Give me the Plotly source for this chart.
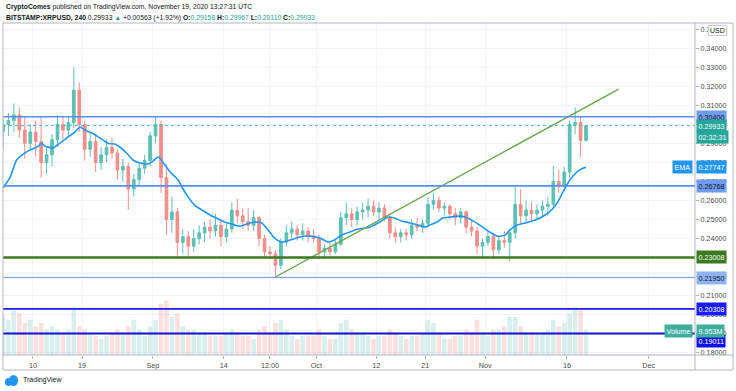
import plotly.graph_objects as go
import pandas as pd

# ---------------- data (daily candles) ----------------
dates = pd.date_range("2020-08-04", "2020-11-19", freq="D")

opens = [0.296,0.300,0.302,0.305,0.297,0.290,0.296,0.291,0.280,0.284,0.292,0.300,0.297,0.301,0.318,0.300,0.287,0.291,0.280,0.284,0.288,0.285,0.276,0.278,0.266,0.271,0.277,0.281,
         0.294,0.300,0.272,0.250,0.254,0.238,0.241,0.236,0.240,0.243,0.246,0.244,0.247,0.241,0.245,0.255,0.252,0.249,0.247,0.251,0.240,0.233,0.232,0.226,0.238,0.243,0.245,0.242,0.244,0.241,
         0.240,0.233,0.235,0.233,0.237,0.251,0.253,0.250,0.254,0.255,0.257,0.254,0.256,0.251,0.243,0.241,0.243,0.242,0.247,0.246,0.248,0.258,0.260,0.256,0.257,0.253,0.251,0.254,0.246,0.244,0.236,
         0.238,0.241,0.234,0.239,0.238,0.243,0.258,0.252,0.255,0.253,0.255,0.257,0.258,0.270,0.268,0.275,0.300,0.301,0.2916]
highs = [0.303,0.306,0.311,0.309,0.304,0.300,0.302,0.304,0.288,0.295,0.305,0.304,0.304,0.330,0.322,0.302,0.296,0.294,0.288,0.292,0.293,0.287,0.282,0.280,0.274,0.280,0.284,0.296,
         0.304,0.302,0.279,0.262,0.256,0.245,0.244,0.245,0.247,0.249,0.250,0.253,0.249,0.248,0.259,0.261,0.256,0.256,0.255,0.252,0.242,0.236,0.234,0.240,0.247,0.249,0.247,0.248,0.246,0.245,
         0.242,0.237,0.238,0.239,0.254,0.259,0.256,0.257,0.259,0.261,0.260,0.259,0.258,0.253,0.246,0.245,0.245,0.250,0.251,0.250,0.262,0.264,0.262,0.259,0.258,0.256,0.256,0.255,0.250,0.246,0.240,
         0.244,0.243,0.241,0.244,0.245,0.267,0.266,0.260,0.259,0.258,0.260,0.262,0.278,0.276,0.278,0.302,0.309,0.304,0.29967]
lows = [0.288,0.294,0.296,0.293,0.282,0.286,0.283,0.272,0.274,0.278,0.288,0.292,0.293,0.298,0.296,0.281,0.283,0.275,0.276,0.280,0.282,0.271,0.270,0.255,0.262,0.268,0.274,0.278,
        0.290,0.264,0.242,0.243,0.230,0.232,0.231,0.233,0.237,0.238,0.240,0.241,0.236,0.238,0.243,0.248,0.245,0.244,0.244,0.236,0.230,0.229,0.220,0.224,0.236,0.240,0.239,0.239,0.238,0.238,
        0.229,0.230,0.231,0.232,0.236,0.247,0.246,0.247,0.250,0.251,0.252,0.250,0.249,0.240,0.238,0.238,0.239,0.240,0.244,0.243,0.246,0.255,0.254,0.252,0.250,0.247,0.248,0.243,0.241,0.232,0.230,
        0.236,0.229,0.232,0.235,0.228,0.240,0.248,0.249,0.249,0.250,0.252,0.252,0.256,0.264,0.265,0.272,0.295,0.283,0.2911]
closes = [0.300,0.302,0.305,0.297,0.290,0.296,0.291,0.280,0.284,0.292,0.300,0.297,0.301,0.318,0.300,0.287,0.291,0.280,0.284,0.288,0.285,0.276,0.278,0.266,0.271,0.277,0.281,0.294,
          0.300,0.272,0.250,0.254,0.238,0.241,0.236,0.240,0.243,0.246,0.244,0.247,0.241,0.245,0.255,0.252,0.249,0.247,0.251,0.240,0.233,0.232,0.226,0.238,0.243,0.245,0.242,0.244,0.241,0.240,
          0.233,0.235,0.233,0.237,0.251,0.253,0.250,0.254,0.255,0.257,0.254,0.256,0.251,0.243,0.241,0.243,0.242,0.247,0.246,0.248,0.258,0.260,0.256,0.257,0.253,0.251,0.254,0.246,0.244,0.236,0.238,
          0.241,0.234,0.239,0.238,0.243,0.258,0.252,0.255,0.253,0.255,0.257,0.258,0.270,0.268,0.275,0.300,0.301,0.2916,0.29933]
volumes = [60,55,70,65,50,55,45, 50,40,45,40,35,40,75, 45,40,35,30,25,30,35, 40,35,45,55,40,30,45,
           55,80,85,60,65,45,40, 40,35,35,30,30,30,35, 40,35,30,30,25,40,45, 35,50,55,40,30,25,30,
           30,30,40,30,25,25,50, 55,40,35,35,30,25,30, 30,40,35,30,25,30,30, 35,55,50,35,25,25,30,
           30,40,35,55,35,30,40, 40,45,60,60,45,35,35, 35,35,40,55,45,50,65, 75,70,40]

ema_times = ["2020-08-04 12:00","2020-08-05 20:00","2020-08-07 00:00","2020-08-08 00:00","2020-08-09 12:00",
             "2020-08-10 16:00","2020-08-11 16:00","2020-08-12 04:00","2020-08-13 16:00","2020-08-14 12:00",
             "2020-08-16 04:00","2020-08-17 16:00","2020-08-18 16:00","2020-08-19 12:00","2020-08-20 20:00",
             "2020-08-22 08:00","2020-08-23 20:00","2020-08-25 00:00","2020-08-26 00:00","2020-08-27 04:00",
             "2020-08-28 08:00","2020-08-29 16:00","2020-08-31 00:00","2020-08-31 20:00","2020-09-02 00:00",
             "2020-09-02 20:00","2020-09-04 04:00","2020-09-05 16:00","2020-09-06 08:00","2020-09-07 12:00",
             "2020-09-08 16:00","2020-09-10 00:00","2020-09-11 12:00","2020-09-13 00:00","2020-09-14 04:00",
             "2020-09-15 12:00","2020-09-17 00:00","2020-09-18 20:00","2020-09-20 08:00","2020-09-21 00:00",
             "2020-09-22 04:00","2020-09-23 08:00","2020-09-24 16:00","2020-09-26 04:00","2020-09-28 00:00",
             "2020-09-29 20:00","2020-10-01 16:00","2020-10-03 04:00","2020-10-04 08:00","2020-10-05 16:00",
             "2020-10-07 04:00","2020-10-08 16:00","2020-10-10 20:00","2020-10-12 16:00","2020-10-14 04:00",
             "2020-10-15 08:00","2020-10-16 16:00","2020-10-18 04:00","2020-10-19 16:00","2020-10-21 00:00",
             "2020-10-21 20:00","2020-10-23 04:00","2020-10-24 04:00","2020-10-25 12:00","2020-10-27 00:00",
             "2020-10-28 08:00","2020-10-29 12:00","2020-10-31 00:00","2020-11-01 20:00","2020-11-03 04:00",
             "2020-11-04 16:00","2020-11-05 12:00","2020-11-06 20:00","2020-11-08 08:00","2020-11-10 04:00",
             "2020-11-12 00:00","2020-11-13 04:00","2020-11-14 08:00","2020-11-15 16:00","2020-11-16 20:00",
             "2020-11-18 08:00","2020-11-19 12:00"]
ema_values = [0.2666,0.2724,0.2813,0.2840,0.2866,0.2880,0.2900,0.2886,0.2876,0.2892,
              0.2928,0.2960,0.2986,0.2970,0.2955,0.2928,0.2900,0.2897,0.2880,0.2850,
              0.2813,0.2797,0.2792,0.2803,0.2829,0.2803,0.2750,0.2708,0.2671,0.2618,
              0.2576,0.2550,0.2524,0.2503,0.2487,0.2476,0.2465,0.2482,0.2487,0.2482,
              0.2445,0.2403,0.2382,0.2392,0.2408,0.2413,0.2403,0.2382,0.2392,0.2419,
              0.2435,0.2450,0.2460,0.2487,0.2513,0.2508,0.2492,0.2482,0.2471,0.2460,
              0.2471,0.2487,0.2508,0.2513,0.2518,0.2513,0.2497,0.2471,0.2434,0.2413,
              0.2418,0.2445,0.2471,0.2482,0.2497,0.2524,0.2550,0.2593,0.2666,0.2719,
              0.2761,0.2775]

trend_times = ["2020-09-23 12:00", "2020-11-25 12:00"]
trend_prices = [0.2198, 0.3186]

level_values = [0.30400, 0.26768, 0.23008, 0.21950, 0.20308, 0.19011]
level_labels = ["0.30400", "0.26768", "0.23008", "0.21950", "0.20308", "0.19011"]
last_price = 0.29933
ema_last = 0.27747

x_tick_dates = ["2020-08-10", "2020-08-19", "2020-09-01", "2020-09-14", "2020-09-22 12:00",
                "2020-10-01", "2020-10-12", "2020-10-21", "2020-11-01", "2020-11-16", "2020-12-01"]
x_tick_labels = ["10", "19", "Sep", "14", "12:00", "Oct", "12", "21", "Nov", "16", "Dec"]
y_ticks = [round(0.18 + 0.01 * i, 2) for i in range(18)]

# ---------------- styling ----------------
FONT = "Liberation Sans"
level_styles = [  # line color, width, badge bg, badge text
    ("#5b8def", 1.6, "#6f9cf1", "#131722"),
    ("#5b8def", 1.6, "#6f9cf1", "#131722"),
    ("#3b7a1f", 2.6, "#3b7a1f", "#ffffff"),
    ("#6f9ef5", 1.0, "#8fb3f7", "#131722"),
    ("#1a1aff", 1.8, "#1a1aff", "#ffffff"),
    ("#1010d0", 1.8, "#1010e8", "#ffffff"),
]

vol_colors = ["rgba(38,166,154,0.18)" if c >= o else "rgba(239,83,80,0.18)"
              for o, c in zip(opens, closes)]

fig = go.Figure()
fig.add_trace(go.Bar(x=dates, y=volumes, yaxis="y2", marker_color=vol_colors,
                     marker_line_width=0, xperiod=86400000, xperiodalignment="middle",
                     hoverinfo="skip", showlegend=False))
fig.add_trace(go.Candlestick(x=dates, open=opens, high=highs, low=lows, close=closes,
                             xperiod=86400000, xperiodalignment="middle",
                             increasing=dict(line=dict(color="#5cc0b5", width=1), fillcolor="#5cc0b5"),
                             decreasing=dict(line=dict(color="#f38e8b", width=1), fillcolor="#f38e8b"),
                             whiskerwidth=0, showlegend=False))
fig.add_trace(go.Scatter(x=ema_times, y=ema_values, mode="lines",
                         line=dict(color="#2196f3", width=1.6, shape="spline", smoothing=0.6),
                         showlegend=False, hoverinfo="skip"))
fig.add_trace(go.Scatter(x=trend_times, y=trend_prices, mode="lines",
                         line=dict(color="#6aa84f", width=1.4), showlegend=False, hoverinfo="skip"))

shapes = []
for v, (lc, lw, _, _) in zip(level_values, level_styles):
    shapes.append(dict(type="line", xref="paper", x0=0, x1=1, yref="y", y0=v, y1=v,
                       line=dict(color=lc, width=lw), layer="above"))
shapes.append(dict(type="line", xref="paper", x0=0, x1=1, yref="y", y0=last_price, y1=last_price,
                   line=dict(color="#4db6ac", width=1, dash="dot"), layer="above"))

# frame (pixel geometry converted to paper units: plot 692 x 332 px)
XR = (733 - 3) / 692
YB = (355 - 370) / 332
frame = "#b2b5be"
shapes += [
    dict(type="line", xref="paper", yref="paper", x0=0, x1=XR, y0=1, y1=1, line=dict(color=frame, width=1)),
    dict(type="line", xref="paper", yref="paper", x0=0, x1=XR, y0=0, y1=0, line=dict(color=frame, width=1)),
    dict(type="line", xref="paper", yref="paper", x0=0, x1=XR, y0=YB, y1=YB, line=dict(color=frame, width=1)),
    dict(type="line", xref="paper", yref="paper", x0=0, x1=0, y0=YB, y1=1, line=dict(color=frame, width=1)),
    dict(type="line", xref="paper", yref="paper", x0=1, x1=1, y0=YB, y1=1, line=dict(color=frame, width=1)),
    dict(type="line", xref="paper", yref="paper", x0=XR, x1=XR, y0=YB, y1=1, line=dict(color=frame, width=1)),
]
# TradingView logo blobs
shapes += [
    dict(type="circle", xref="paper", yref="paper", x0=(5-3)/692, x1=(12-3)/692,
         y0=(355-386)/332, y1=(355-378)/332, fillcolor="#2196f3", line=dict(width=0)),
    dict(type="circle", xref="paper", yref="paper", x0=(9-3)/692, x1=(18-3)/692,
         y0=(355-386)/332, y1=(355-375)/332, fillcolor="#2196f3", line=dict(width=0)),
]

ann = []
teal = "#26a69a"
ann.append(dict(xref="paper", yref="paper", x=(4-3)/692, y=(355-7)/332, xanchor="left", yanchor="middle",
                showarrow=False, font=dict(family=FONT, size=6.8, color="#131722"),
                text="<b>CryptoComes</b> published on TradingView.com, November 19, 2020 13:27:31 UTC"))
ann.append(dict(xref="paper", yref="paper", x=(4-3)/692, y=(355-18)/332, xanchor="left", yanchor="middle",
                showarrow=False, font=dict(family=FONT, size=6.8, color="#131722"),
                text=("<b>BITSTAMP:XRPUSD, 240</b> 0.29933 <span style='color:%s'>▲</span> +0.00563 (+1.92%%) "
                      "<b>O:</b><span style='color:%s'>0.29158</span> <b>H:</b><span style='color:%s'>0.29967</span> "
                      "<b>L:</b><span style='color:%s'>0.29110</span> <b>C:</b><span style='color:%s'>0.29933</span>")
                % (teal, teal, teal, teal, teal)))
ann.append(dict(xref="paper", yref="paper", x=(21-3)/692, y=(355-380)/332, xanchor="left", yanchor="middle",
                showarrow=False, font=dict(family=FONT, size=7, color="#131722"), text="TradingView"))

def badge(y, text, bg, fg, yref="y", xanchor="left", xshift=1, yshift=0):
    return dict(xref="paper", x=1, yref=yref, y=y, xanchor=xanchor, yanchor="middle",
                xshift=xshift, yshift=yshift, showarrow=False, text=text, bgcolor=bg,
                font=dict(family=FONT, size=7.2, color=fg), borderpad=1.5)

for v, lab, (_, _, bg, fg) in zip(level_values, level_labels, level_styles):
    ys = -8 if lab == "0.19011" else 0
    ann.append(badge(v, lab, bg, fg, yshift=ys))
ann.append(badge(last_price, "0.29933", "#26a69a", "#ffffff"))
ann.append(badge(last_price, "02:32:31", "#26a69a", "#ffffff", yshift=-11))
ann.append(badge(ema_last, "0.27747", "#2196f3", "#ffffff"))
ann.append(badge(ema_last, "EMA", "#2196f3", "#ffffff", xanchor="right", xshift=-2))
vol_y = (355 - 331) / 332
ann.append(badge(vol_y, "9.953M", "#3fae9f", "#ffffff", yref="paper"))
ann.append(badge(vol_y, "Volume", "#3fae9f", "#ffffff", yref="paper", xanchor="right", xshift=-2))
ann.append(dict(xref="paper", x=(718-3)/692, yref="paper", y=(355-30)/332, xanchor="center", yanchor="middle",
                showarrow=False, text="USD", bgcolor="#ffffff", bordercolor="#c8cbd2", borderwidth=1,
                borderpad=1, font=dict(family=FONT, size=7, color="#131722")))

fig.update_layout(
    width=736, height=391,
    margin=dict(l=3, r=41, t=23, b=36),
    paper_bgcolor="#ffffff", plot_bgcolor="#ffffff",
    showlegend=False, bargap=0.15,
    shapes=shapes, annotations=ann,
    font=dict(family=FONT, size=7.2, color="#4a4a4a"),
    xaxis=dict(type="date", range=["2020-08-04 12:00", "2020-12-09 12:00"],
               rangeslider=dict(visible=False),
               tickvals=x_tick_dates, ticktext=x_tick_labels,
               showgrid=True, gridcolor="#f0f3fa", gridwidth=1,
               ticks="outside", ticklen=3, tickcolor="#b2b5be",
               tickfont=dict(family=FONT, size=7.2, color="#4a4a4a"),
               showline=False, zeroline=False, fixedrange=True),
    yaxis=dict(side="right", range=[0.1788, 0.3533], tickvals=y_ticks, tickformat=".5f",
               showgrid=True, gridcolor="#f0f3fa", gridwidth=1,
               ticks="outside", ticklen=3, tickcolor="#b2b5be",
               tickfont=dict(family=FONT, size=7.2, color="#4a4a4a"),
               showline=False, zeroline=False),
    yaxis2=dict(overlaying="y", range=[0, 520], visible=False),
)

fig.write_html("out.html", config={"displayModeBar": False},
               post_script="document.body.style.margin='0';")
